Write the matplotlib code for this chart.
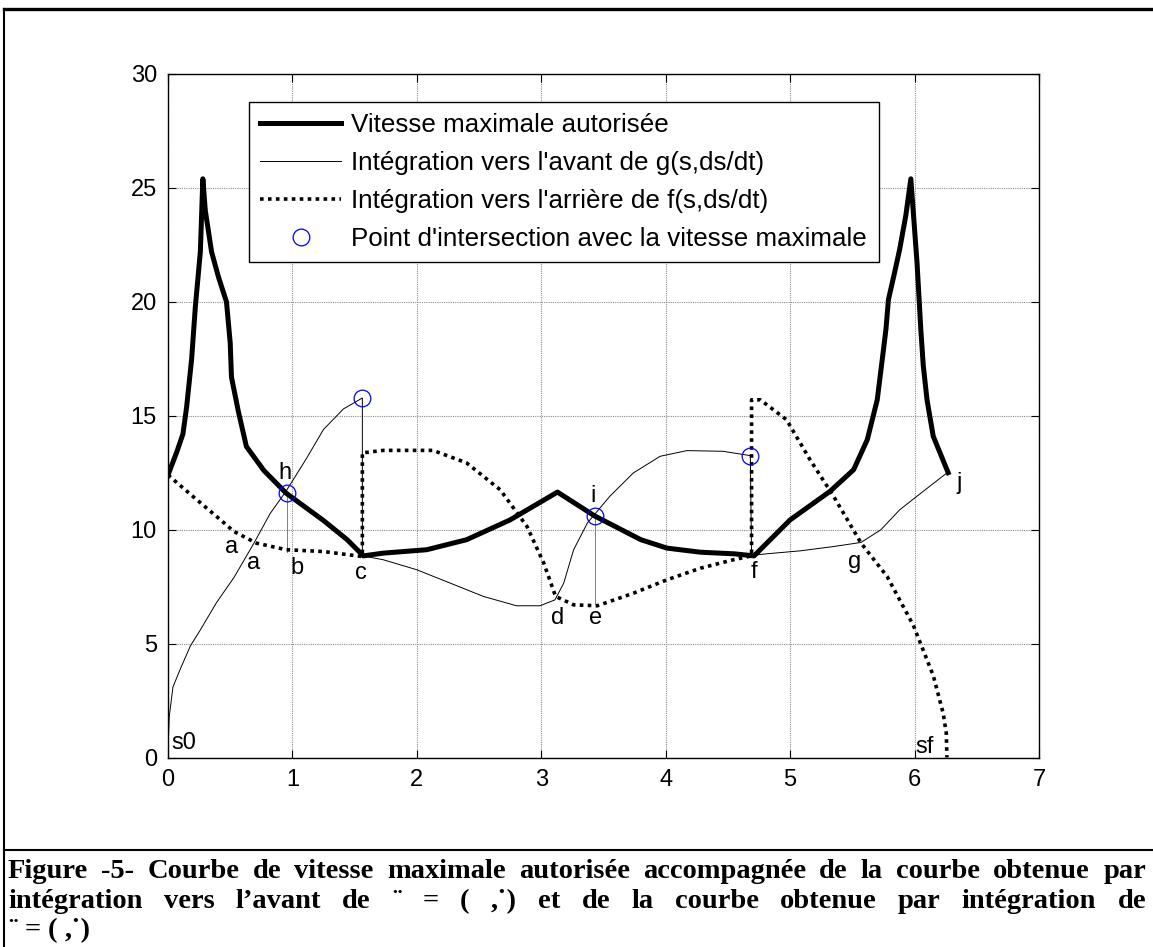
import numpy as np
import matplotlib
matplotlib.use("Agg")
import matplotlib.pyplot as plt
from matplotlib.lines import Line2D

plt.rcParams['font.family'] = ['Liberation Sans', 'DejaVu Sans']

# vitesse maximale autorisee
vmax_s = [0.00, 0.07, 0.12, 0.15, 0.19, 0.22, 0.26, 0.28, 0.30, 0.35, 0.405, 0.47, 0.50, 0.51, 0.565,
          0.63, 0.77, 0.95, 1.25, 1.44, 1.57, 1.73, 2.08, 2.40, 2.75, 3.13, 3.43, 3.80, 4.01,
          4.28, 4.55, 4.71, 5.00, 5.32, 5.51, 5.62, 5.70, 5.75, 5.77, 5.79, 5.84, 5.88, 5.93,
          5.97, 6.02, 6.05, 6.07, 6.10, 6.15, 6.27]
vmax_v = [12.4, 13.4, 14.2, 15.4, 17.5, 19.8, 22.2, 25.4, 24.0, 22.2, 21.1, 20.0, 18.2, 16.7, 15.2,
          13.65, 12.6, 11.6, 10.4, 9.56, 8.85, 8.97, 9.12, 9.56, 10.43, 11.65, 10.6, 9.56, 9.19,
          9.01, 8.94, 8.85, 10.43, 11.68, 12.63, 13.95, 15.7, 17.9, 18.8, 20.1, 21.3, 22.3, 23.8,
          25.4, 21.7, 18.8, 17.2, 15.7, 14.1, 12.5]

# integration vers l'avant
fwd_s = [0.00, 0.01, 0.04, 0.10, 0.18, 0.26, 0.39, 0.53, 0.69, 0.82, 0.95, 1.11, 1.25, 1.41, 1.562,
         1.562, 1.73, 2.00, 2.27, 2.535, 2.80, 2.99, 3.11, 3.18, 3.26, 3.37, 3.55, 3.74, 3.955,
         4.17, 4.46, 4.68, 4.69, 4.81, 5.08, 5.35, 5.57, 5.73, 5.88, 6.05, 6.26]
fwd_v = [0.3, 1.8, 3.1, 3.9, 4.9, 5.6, 6.8, 7.9, 9.4, 10.7, 11.7, 13.1, 14.4, 15.3, 15.78,
         8.85, 8.68, 8.24, 7.65, 7.07, 6.66, 6.66, 6.92, 7.65, 9.12, 10.29, 11.46, 12.49, 13.22,
         13.47, 13.44, 13.25, 8.87, 8.94, 9.07, 9.26, 9.44, 10.0, 10.87, 11.6, 12.49]

# integration vers l'arriere
bwd_s = [0.00, 0.20, 0.39, 0.53, 0.71, 0.95, 1.25, 1.562, 1.562, 1.73, 2.13, 2.40, 2.67, 2.885,
         3.02, 3.115, 3.26, 3.45, 3.74, 4.01, 4.28, 4.545, 4.69, 4.69, 4.76, 4.97, 5.16, 5.35,
         5.57, 5.78, 5.99, 6.15, 6.23, 6.255, 6.26]
bwd_v = [12.4, 11.46, 10.58, 9.92, 9.41, 9.12, 9.04, 8.82, 13.37, 13.48, 13.48, 12.93, 11.75, 10.14,
         8.53, 7.07, 6.70, 6.66, 7.21, 7.80, 8.31, 8.68, 8.85, 15.7, 15.7, 14.83, 13.07, 11.46,
         9.41, 7.94, 5.8, 3.6, 1.94, 1.06, 0.0]

# points d'intersection
inter_s = [0.954, 1.562, 3.43, 4.68]
inter_v = [11.6, 15.78, 10.6, 13.25]

# projections verticales (h -> b, i -> e)
proj_s = [0.954, 3.43]
proj_top = [11.6, 10.6]
proj_bot = [9.0, 6.75]

labels = ['a', 'a', 'b', 'c', 'h', 'd', 'e', 'i', 'f', 'g', 'j', 's0', 'sf']
label_s = [0.51, 0.69, 1.04, 1.55, 0.94, 3.13, 3.44, 3.42, 4.71, 5.52, 6.36, 0.13, 6.08]
label_v = [9.26, 8.53, 8.31, 8.09, 12.49, 6.12, 6.12, 11.46, 8.16, 8.6, 12.05, 0.65, 0.45]

caption = ["Figure -5- Courbe de vitesse maximale autorisée accompagnée de la courbe obtenue par",
           "intégration vers l’avant de ¨ = ( ,˙) et de la courbe obtenue par intégration de",
           "¨ = ( ,˙)"]

W, H = 1153, 947
fig = plt.figure(figsize=(W/100, H/100), dpi=100)
ax = fig.add_axes([168/W, 1-757.5/H, 871/W, 683.5/H])

ax.plot(vmax_s, vmax_v, color='k', lw=3.6, label='Vitesse maximale autorisée', zorder=4)
ax.plot(fwd_s, fwd_v, color='k', lw=0.7, label="Intégration vers l'avant de g(s,ds/dt)", zorder=3)
ax.plot(bwd_s, bwd_v, color='k', lw=2.6, linestyle=(0, (1, 1.2)),
        label="Intégration vers l'arrière de f(s,ds/dt)", zorder=3)
ax.plot(inter_s, inter_v, 'o', mfc='none', mec='b', ms=12, mew=0.9,
        label="Point d'intersection avec la vitesse maximale", zorder=5)
for i in range(len(proj_s)):
    ax.plot([proj_s[i], proj_s[i]], [proj_bot[i], proj_top[i]], color='0.5', lw=0.7, zorder=2)

for i in range(len(labels)):
    ax.text(label_s[i], label_v[i], labels[i], fontsize=17, ha='center', va='center', zorder=6)

ax.set_xlim(0, 7)
ax.set_ylim(0, 30)
ax.set_xticks(range(0, 8))
ax.set_yticks(range(0, 31, 5))
ax.tick_params(direction='in', top=True, right=True, length=6, labelsize=17, pad=8)
ax.grid(True, color='0.55', linestyle=(0, (1, 1)), lw=0.8)
for sp in ax.spines.values():
    sp.set_linewidth(1.0)

leg = ax.legend(loc='upper left', bbox_to_anchor=(0.0926, 0.9595), fontsize=18.7,
                fancybox=False, edgecolor='k', framealpha=1, handlelength=3.1,
                handletextpad=0.4, borderpad=0.45, labelspacing=0.53, borderaxespad=0)
leg.get_frame().set_linewidth(1.0)

# cadre de la figure
fig.add_artist(Line2D([4/W, 1], [1-9/H, 1-9/H], color='k', lw=2.4))
fig.add_artist(Line2D([4/W, 4/W], [0, 1-9/H], color='k', lw=1.5))
fig.add_artist(Line2D([4/W, 1], [1-850/H, 1-850/H], color='k', lw=1.5))

# legende de la figure, justifiee
r = fig.canvas.get_renderer()
cap_kw = dict(fontsize=20.5, fontweight='bold', family=['Liberation Serif', 'DejaVu Serif'], va='baseline')
x0, x1 = 8, 1146
base_y = [878, 908, 937]
for k, line in enumerate(caption):
    words = line.split(' ')
    arts = [fig.text(0, 1-base_y[k]/H, w, **cap_kw) for w in words]
    widths = [a.get_window_extent(r).width for a in arts]
    if k < 2:
        gap = (x1 - x0 - sum(widths)) / (len(words) - 1)
    else:
        gap = 7
    x = x0
    for a, w in zip(arts, widths):
        a.set_x(x/W)
        x += w + gap

fig.savefig('out.png', dpi=100)
